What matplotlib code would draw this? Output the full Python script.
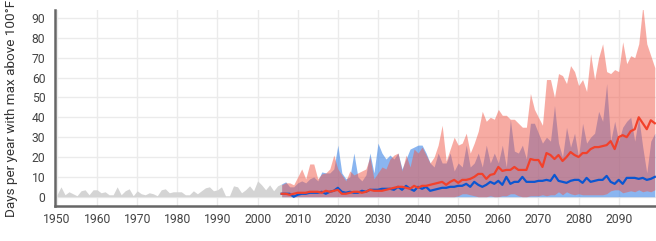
import numpy as np
import matplotlib.pyplot as plt

plt.rcParams['font.family'] = ['Roboto', 'DejaVu Sans']

# observed history, 1950-2006
hist_years = np.arange(1950, 2007)
hist = [1, 5, 1, 2.5, 1.5, 0.5, 3, 3.5, 1, 3.5,
        3.5, 2, 2.5, 1, 1, 5, 1, 3, 4, 0.5,
        3, 1.5, 1, 2, 1.5, 0.5, 3.5, 4, 2, 2.5,
        2.5, 2.5, 1, 1, 3, 1.5, 3, 4.5, 5, 3,
        3.5, 5, 0.5, 0.5, 5.5, 5, 2, 3.5, 5.5, 3,
        8, 6, 3.5, 6, 3, 5.5, 6.5]

# projections, 2006-2099
proj_years = np.arange(2006, 2100)
red_upper = [6, 7, 7, 6, 10, 14, 9, 16.5, 16.5, 9,
             11.5, 12, 14, 21, 14, 11, 8, 13, 11, 12,
             13, 14, 20, 9, 12, 15, 14, 19, 21, 22,
             13, 21, 15, 24, 22, 25, 21, 17, 20, 26,
             36, 18, 24, 30, 26, 27, 32, 22, 27, 33,
             43, 38, 40, 39, 44, 41, 41, 39, 39, 37,
             35, 35, 52, 44, 40, 36, 59, 59, 50, 62,
             61, 57, 66, 63, 56, 59, 53, 72, 59, 70,
             77, 63, 62, 64, 63, 78, 67, 71, 70, 77,
             96, 77, 71, 65]
red_lower = [0, 0, 0, 0, 0, 0, 0, 0, 0, 0,
             0, 0, 0, 0, 0, 0, 0, 0, 0, 0,
             0, 0, 0, 0, 0, 0, 0, 0, 0, 0,
             0, 0, 0, 0, 0, 0, 0, 0, 0, 0,
             0, 0, 0, 0, 0.5, 1.5, 1.5, 1, 0.5, 0,
             0, 0, 0.5, 0, 0, 0.5, 0.5, 1.5, 1.5, 0.5,
             0, 0, 0.5, 0.5, 0.5, 1, 0.5, 1, 1, 2.5,
             1, 2.5, 1.5, 1, 1.5, 1, 1, 1, 1, 1,
             1, 1.5, 3, 3.5, 3.5, 2, 2.5, 3, 2.5, 3.5,
             2.5, 3, 2.5, 3.5]
blue_upper = [6.5, 7.5, 5, 5, 7, 8, 7, 9, 10, 8,
              12.5, 12, 12, 14, 26, 12, 9, 10, 22, 10,
              8, 11, 22, 12, 27, 22, 19, 21, 19, 22,
              14, 19, 24, 25, 26, 26, 22, 17, 15, 22,
              17, 17, 22, 13, 17, 15, 26, 15, 17, 22,
              15, 26, 17, 22, 17, 26, 15, 39, 23, 22,
              26, 19, 37, 37, 32, 27, 30, 28, 46, 27,
              20, 35, 25, 32, 20, 37, 27, 30, 32, 43,
              38, 57, 28, 38, 28, 35, 38, 40, 28, 40,
              25, 12, 28, 32]
blue_lower = [0] * 94
red_mid = [1.5, 1.5, 1, 1.5, 2, 2, 2, 2.5, 2.5, 2.5,
           2, 3, 2.5, 3, 3.5, 1.5, 1.5, 2, 2.5, 2.5,
           2, 2.5, 3.5, 3, 3, 3, 3.5, 4, 4.5, 5,
           5, 4.5, 4, 5.5, 4.5, 5.5, 5.5, 6, 6.5, 7,
           7.5, 6, 7.5, 8.5, 7, 8.5, 8.5, 9, 10, 11.5,
           11.5, 9, 11, 11.5, 15, 13, 13.5, 13.5, 15, 13.5,
           13.5, 13.5, 19, 18.5, 18.5, 15, 22, 21, 19, 21,
           18, 20, 22.5, 21, 20, 22, 22, 24, 25, 25,
           25.5, 26, 28, 24, 30, 31, 30, 33, 34, 40,
           37, 34, 38.5, 37]
blue_mid = [1.5, 1.5, 1.5, 0, 1, 1.5, 1.5, 2, 2, 2,
            2.5, 1.5, 2.5, 3, 4.5, 2.5, 2, 2.5, 2, 2,
            3, 2.5, 3.5, 3.5, 3.5, 4, 4, 4, 3.5, 5,
            3.5, 5.5, 4, 3, 5, 4, 5, 3, 3.5, 4,
            4.5, 4.5, 5, 5, 5.5, 5.5, 6.5, 5, 7.5, 6,
            5, 6, 7.5, 6.5, 8, 6, 10, 6.5, 7.5, 7.5,
            10, 7.5, 7.5, 7.5, 8, 8, 8.5, 8, 11, 8,
            7.5, 7, 8, 8.5, 8.5, 7, 9.5, 7.5, 8, 8.5,
            8.5, 10.5, 7.5, 6.5, 8.5, 6.5, 9.5, 9.5, 9.5, 9,
            9.5, 8.5, 9, 10]

fig = plt.figure(figsize=(6.56, 2.41), dpi=100)
ax = fig.add_axes([0.0838, 0.1465, 0.9162, 0.812])

ax.fill_between(hist_years, 0, hist, color='#d4d4d4', lw=0, zorder=2)
ax.fill_between(proj_years, blue_lower, blue_upper, color='#3d85e6', alpha=0.6, lw=0, zorder=3)
ax.fill_between(proj_years, red_lower, red_upper, color='#f15949', alpha=0.5, lw=0, zorder=4)
ax.plot(proj_years, blue_mid, color='#0b56d1', lw=1.6, zorder=5)
ax.plot(proj_years, red_mid, color='#f2412b', lw=1.6, zorder=6)

ax.set_xlim(1949.5, 2099.3)
ax.set_ylim(-4.5, 94)
ax.set_xticks(range(1950, 2100, 10))
ax.set_yticks(range(0, 100, 10))
ax.grid(True, color='#ebebeb', lw=1, zorder=0)
ax.tick_params(length=0, labelsize=8.7, labelcolor='#444444')
ax.tick_params(axis='y', pad=7)
ax.tick_params(axis='x', pad=5)
for s in ['top', 'right']:
    ax.spines[s].set_visible(False)
for s in ['left', 'bottom']:
    ax.spines[s].set_color('#666666')
    ax.spines[s].set_linewidth(1.8)

# long y label, placed by hand so its foot sits where the original's does
fig.text(5 / 656, 24 / 241, 'Days per year with max above 100°F', rotation=90,
         ha='left', va='bottom', fontsize=9.7, color='#333333')

plt.savefig('out.png', dpi=100)
